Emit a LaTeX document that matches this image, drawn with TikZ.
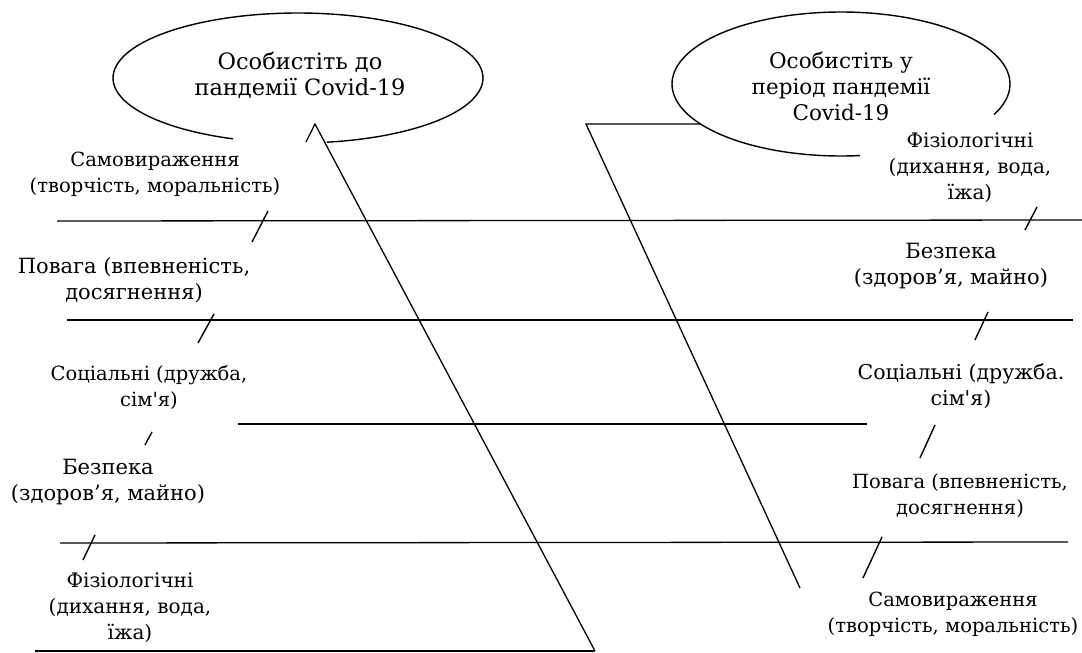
\documentclass[tikz,border=0pt]{standalone}
\usepackage{fontspec}
\newfontfamily\labelfont{DejaVu Serif}
\begin{document}
\begin{tikzpicture}[x=1pt,y=-1pt,line width=1.3pt,
  lbl/.style={font=\labelfont\fontsize{#1}{26}\selectfont,align=center,inner sep=0pt},
  lbl/.default=20,
  hline/.style={line width=1.3pt},
  tickmark/.style={line width=1.4pt},
  bubble/.style={line width=1.4pt}]
\useasboundingbox (0,0) rectangle (1082,653);
\fill[white] (0,0) rectangle (1082,653);
% horizontal lines
\draw[hline] (57,221) -- (1082,220);
\draw[hline] (67,320) -- (1073,320);
\draw[hline] (238,424) -- (867,424);
\draw[hline] (60,543) -- (1068,542);
\draw[hline] (35,651) -- (595,651);
% spines
\draw[hline] (306,142) -- (315,124) -- (595,651);
\draw[hline] (700,124) -- (586,124) -- (800,588);
% bubbles
\draw[bubble] plot[domain=81:-249.4,samples=120,smooth] ({298+185*cos(\x)},{78+65*sin(\x)});
\draw[bubble] plot[domain=83.5:385,samples=120,smooth] ({841+169*cos(\x)},{84+72*sin(\x)});
% ticks
\draw[tickmark] (268,211) -- (252,242);
\draw[tickmark] (214,314) -- (198,343);
\draw[tickmark] (152,432) -- (145,445);
\draw[tickmark] (95,535) -- (83,560);
\draw[tickmark] (1037,207) -- (1025,230);
\draw[tickmark] (988,312) -- (975,340);
\draw[tickmark] (935,425) -- (920,458);
\draw[tickmark] (882,537) -- (863,578);
% bubble texts
\node[lbl=22.5] (e1) at (300,75) {Особистіть до\\пандемії Covid-19};
\node[lbl=21.5] (e2) at (841,86) {Особистіть у\\період пандемії\\Covid-19};
% left labels
\node[lbl=19.5] (l1) at (155,174) {Самовираження\\(творчість, моральність)};
\node[lbl=21] (l2) at (134,280) {Повага (впевненість,\\досягнення)};
\node[lbl=19.5] (l3) at (149,387) {Соціальні (дружба,\\сім'я)};
\node[lbl=21] (l4) at (108,482) {Безпека\\(здоров’я, майно)};
\node[lbl=20] (l5) at (130,608) {Фізіологічні\\(дихання, вода,\\їжа)};
% right labels
\node[lbl=20] (r1) at (970,168) {Фізіологічні\\(дихання, вода,\\їжа)};
\node[lbl=21] (r2) at (951,266) {Безпека\\(здоров’я, майно)};
\node[lbl=20.5] (r3) at (961,386) {Соціальні (дружба.\\сім'я)};
\node[lbl=19.5] (r4) at (960,496) {Повага (впевненість,\\досягнення)};
\node[lbl=19.5] (r5) at (953,614) {Самовираження\\(творчість, моральність)};
\end{tikzpicture}
\end{document}
